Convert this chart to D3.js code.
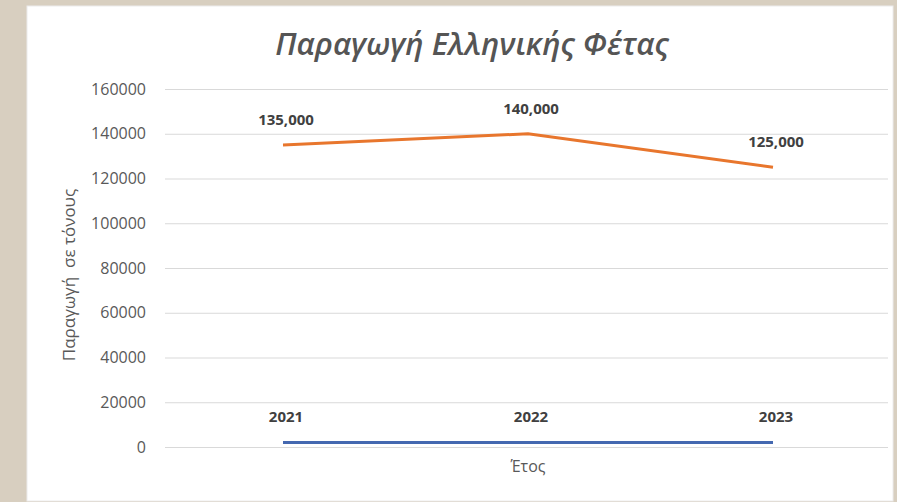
<!DOCTYPE html>
<html>
<head>
<meta charset="utf-8">
<script src="https://cdn.jsdelivr.net/npm/d3@7"></script>
<style>
  body { margin: 0; background: #d8cfc0; }
  #chart { position: absolute; left: 0; top: 0; }
</style>
</head>
<body>
<div id="chart"></div>
<script>
// Chart data
const years = ["2021", "2022", "2023"];
const production = [135000, 140000, 125000];
const yearSeries = [2021, 2022, 2023];
const yTicks = [0, 20000, 40000, 60000, 80000, 100000, 120000, 140000, 160000];

const W = 897, H = 502;
const margin = { top: 89, right: 9, bottom: 55, left: 165 };

const svg = d3.select("#chart").append("svg")
    .attr("width", W)
    .attr("height", H);

// white chart area
svg.append("rect")
    .attr("x", 27).attr("y", 6)
    .attr("width", 866).attr("height", 495)
    .attr("fill", "#ffffff")
    .attr("stroke", "#ececec");

const x = d3.scalePoint()
    .domain(years)
    .range([283, 773]);

const y = d3.scaleLinear()
    .domain([0, 160000])
    .range([H - margin.bottom, margin.top]);

// gridlines
svg.append("g")
    .selectAll("line")
    .data(yTicks)
    .enter().append("line")
    .attr("x1", margin.left)
    .attr("x2", 888)
    .attr("y1", d => y(d) + 0.5)
    .attr("y2", d => y(d) + 0.5)
    .attr("stroke", "#d9d9d9")
    .attr("stroke-width", 1);

// y axis labels
const yAxis = d3.axisLeft(y).tickValues(yTicks).tickSize(0).tickPadding(19).tickFormat(d3.format("d"));
const yAxisGroup = svg.append("g")
    .attr("transform", `translate(${margin.left}, 0)`)
    .call(yAxis);
yAxisGroup.select(".domain").remove();
yAxisGroup.selectAll("text")
    .style("font-family", "Open Sans")
    .style("font-size", "16px")
    .attr("fill", "#595959");

// lines
const line = d3.line()
    .x((d, i) => x(years[i]))
    .y(d => y(d));

svg.append("path")
    .datum(production)
    .attr("d", line)
    .attr("fill", "none")
    .attr("stroke", "#e8762d")
    .attr("stroke-width", 3);

svg.append("path")
    .datum(yearSeries)
    .attr("d", line)
    .attr("fill", "none")
    .attr("stroke", "#4468b0")
    .attr("stroke-width", 3);

// data labels
svg.append("g")
    .selectAll("text")
    .data(production)
    .enter().append("text")
    .attr("x", (d, i) => x(years[i]) + 3)
    .attr("y", d => y(d) - 20)
    .attr("text-anchor", "middle")
    .style("font-family", "Open Sans")
    .style("font-size", "15px")
    .style("font-weight", "bold")
    .attr("fill", "#404040")
    .text(d => d3.format(",")(d));

svg.append("g")
    .selectAll("text")
    .data(yearSeries)
    .enter().append("text")
    .attr("x", (d, i) => x(years[i]) + 3)
    .attr("y", d => y(d) - 20)
    .attr("text-anchor", "middle")
    .style("font-family", "Open Sans")
    .style("font-size", "15px")
    .style("font-weight", "bold")
    .attr("fill", "#404040")
    .text(d => d);

// title
svg.append("text")
    .attr("x", 472)
    .attr("y", 55)
    .attr("text-anchor", "middle")
    .style("font-family", "Open Sans")
    .style("font-size", "31px")
    .style("font-style", "italic")
    .style("font-weight", "600")
    .attr("fill", "#555555")
    .text("Παραγωγή Ελληνικής Φέτας");

// axis titles
svg.append("text")
    .attr("x", 528)
    .attr("y", 472)
    .attr("text-anchor", "middle")
    .style("font-family", "Open Sans")
    .style("font-size", "16px")
    .attr("fill", "#595959")
    .text("Έτος");

svg.append("text")
    .attr("transform", "translate(75, 275) rotate(-90)")
    .attr("text-anchor", "middle")
    .style("font-family", "Open Sans")
    .style("font-size", "17px")
    .style("white-space", "pre")
    .attr("fill", "#595959")
    .text("Παραγωγή  σε τόνους");
</script>
</body>
</html>
